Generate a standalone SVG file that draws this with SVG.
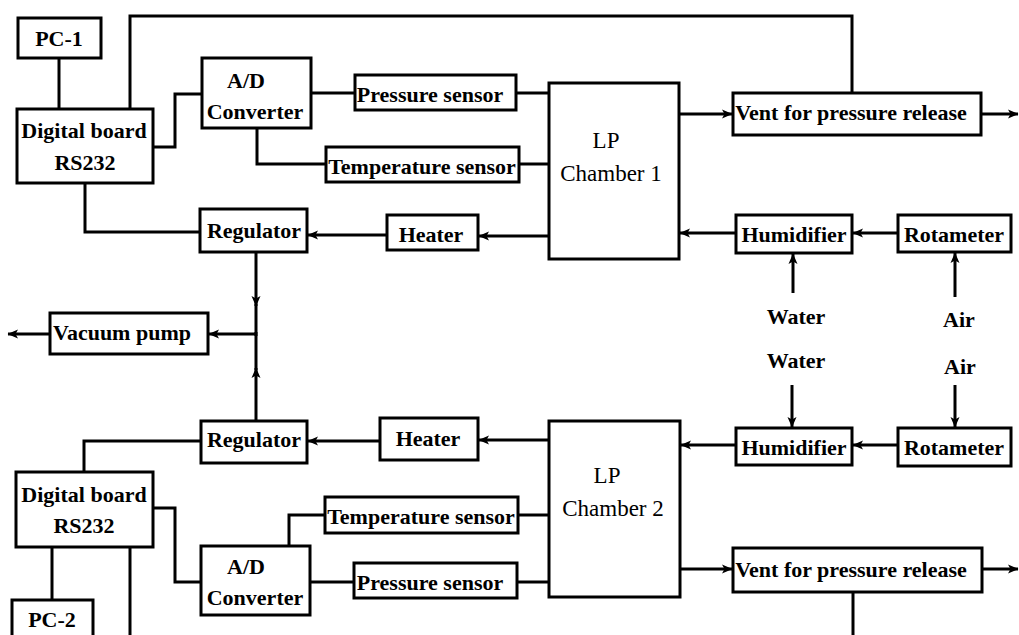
<svg xmlns="http://www.w3.org/2000/svg" width="1019" height="635" viewBox="0 0 1019 635">
<style>
rect{fill:#fff;stroke:#000;stroke-width:3}
.c path,.c line{fill:none;stroke:#000;stroke-width:3}
text{font-family:"Liberation Serif","Times New Roman",serif;font-size:22px;font-weight:bold;text-anchor:middle;fill:#000}
.r{font-weight:normal;font-size:23px}
</style>
<defs>
<marker id="a" markerUnits="userSpaceOnUse" markerWidth="11" markerHeight="10" refX="10" refY="5" orient="auto">
<path d="M0,0.5 L10.5,5 L0,9.5 L2.5,5 z" fill="#000"/>
</marker>
</defs>
<rect width="1019" height="635" style="stroke:none"/>
<g class="c" id="connectors">
<line x1="59" y1="58" x2="59" y2="109"/>
<path d="M130,109 V16 H852 V93"/>
<path d="M153,147 H175 V94 H202"/>
<line x1="311" y1="93" x2="355" y2="93"/>
<path d="M257,128 V164 H326"/>
<line x1="516" y1="93" x2="549" y2="93"/>
<line x1="519" y1="164" x2="549" y2="164"/>
<line x1="549" y1="236" x2="479" y2="236" marker-end="url(#a)"/>
<line x1="387" y1="235" x2="308" y2="235" marker-end="url(#a)"/>
<path d="M85,183 V232 H200"/>
<line x1="256" y1="252" x2="256" y2="306" marker-end="url(#a)"/>
<line x1="256" y1="304" x2="256" y2="336"/>
<line x1="256" y1="334" x2="209" y2="334" marker-end="url(#a)"/>
<line x1="50" y1="334" x2="8" y2="334" marker-end="url(#a)"/>
<line x1="256" y1="421" x2="256" y2="368" marker-end="url(#a)"/>
<line x1="256" y1="370" x2="256" y2="332"/>
<line x1="679" y1="114" x2="732" y2="114" marker-end="url(#a)"/>
<line x1="981" y1="114" x2="1018" y2="114" marker-end="url(#a)"/>
<line x1="736" y1="233" x2="680" y2="233" marker-end="url(#a)"/>
<line x1="898" y1="233" x2="853" y2="233" marker-end="url(#a)"/>
<line x1="793" y1="293" x2="793" y2="254" marker-end="url(#a)"/>
<line x1="955" y1="297" x2="955" y2="253" marker-end="url(#a)"/>
<line x1="792" y1="385" x2="792" y2="427" marker-end="url(#a)"/>
<line x1="955" y1="385" x2="955" y2="427" marker-end="url(#a)"/>
<line x1="898" y1="445" x2="853" y2="445" marker-end="url(#a)"/>
<line x1="736" y1="445" x2="681" y2="445" marker-end="url(#a)"/>
<line x1="549" y1="440" x2="479" y2="440" marker-end="url(#a)"/>
<line x1="380" y1="441" x2="308" y2="441" marker-end="url(#a)"/>
<path d="M201,441 H84 V472"/>
<path d="M153,508 H175 V582 H201"/>
<path d="M289,546 V515 H325"/>
<line x1="310" y1="582" x2="354" y2="582"/>
<line x1="518" y1="515" x2="549" y2="515"/>
<line x1="517" y1="582" x2="549" y2="582"/>
<line x1="52" y1="547" x2="52" y2="600"/>
<line x1="130" y1="547" x2="130" y2="635"/>
<line x1="680" y1="569" x2="732" y2="569" marker-end="url(#a)"/>
<line x1="982" y1="569" x2="1018" y2="569" marker-end="url(#a)"/>
<line x1="853" y1="592" x2="853" y2="635"/>
</g>
<g id="pc1"><rect x="18" y="18" width="83" height="40"/><text x="59" y="46">PC-1</text></g>
<g id="digital1"><rect x="17" y="109" width="136" height="74"/><text x="84" y="138">Digital board</text><text x="85" y="170">RS232</text></g>
<g id="ad1"><rect x="202" y="58" width="109" height="70"/><text x="246" y="88">A/D</text><text x="255" y="119">Converter</text></g>
<g id="pressure1"><rect x="355" y="75" width="161" height="35"/><text x="430" y="102">Pressure sensor</text></g>
<g id="temp1"><rect x="326" y="147" width="193" height="35"/><text x="422" y="174">Temperature sensor</text></g>
<g id="chamber1"><rect x="549" y="83" width="130" height="176"/><text class="r" x="606" y="148">LP</text><text class="r" x="611" y="181">Chamber 1</text></g>
<g id="heater1"><rect x="387" y="215" width="91" height="35"/><text x="431" y="242">Heater</text></g>
<g id="regulator1"><rect x="200" y="209" width="107" height="43"/><text x="254" y="238">Regulator</text></g>
<g id="vacuum"><rect x="50" y="313" width="158" height="41"/><text x="122" y="340">Vacuum pump</text></g>
<g id="vent1"><rect x="733" y="93" width="248" height="42"/><text x="851" y="120">Vent for pressure release</text></g>
<g id="humid1"><rect x="736" y="215" width="116" height="38"/><text x="794" y="242">Humidifier</text></g>
<g id="rota1"><rect x="898" y="215" width="113" height="37"/><text x="954" y="242">Rotameter</text></g>
<g id="water1"><text x="796" y="324">Water</text></g>
<g id="air1"><text x="959" y="327">Air</text></g>
<g id="water2"><text x="796" y="368">Water</text></g>
<g id="air2"><text x="960" y="374">Air</text></g>
<g id="humid2"><rect x="736" y="428" width="116" height="37"/><text x="794" y="455">Humidifier</text></g>
<g id="rota2"><rect x="898" y="428" width="113" height="38"/><text x="954" y="455">Rotameter</text></g>
<g id="chamber2"><rect x="549" y="421" width="131" height="176"/><text class="r" x="607" y="483">LP</text><text class="r" x="613" y="516">Chamber 2</text></g>
<g id="heater2"><rect x="380" y="418" width="98" height="42"/><text x="428" y="446">Heater</text></g>
<g id="regulator2"><rect x="201" y="421" width="106" height="42"/><text x="254" y="447">Regulator</text></g>
<g id="temp2"><rect x="325" y="497" width="193" height="36"/><text x="421" y="524">Temperature sensor</text></g>
<g id="pressure2"><rect x="354" y="563" width="163" height="35"/><text x="430" y="590">Pressure sensor</text></g>
<g id="digital2"><rect x="16" y="472" width="137" height="75"/><text x="84" y="502">Digital board</text><text x="84" y="533">RS232</text></g>
<g id="ad2"><rect x="201" y="546" width="109" height="69"/><text x="246" y="574">A/D</text><text x="255" y="605">Converter</text></g>
<g id="pc2"><rect x="12" y="600" width="81" height="45"/><text x="52" y="627">PC-2</text></g>
<g id="vent2"><rect x="733" y="548" width="249" height="44"/><text x="851" y="577">Vent for pressure release</text></g>
</svg>
